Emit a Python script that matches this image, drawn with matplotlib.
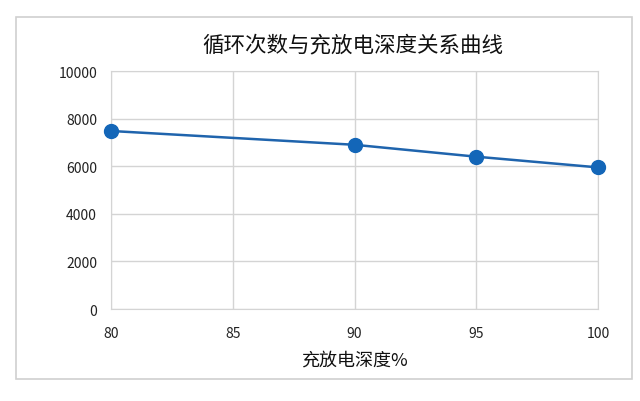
import matplotlib
matplotlib.use("Agg")
import matplotlib.pyplot as plt
from matplotlib.patches import Rectangle

plt.rcParams['font.family'] = ['Noto Sans CJK SC', 'DejaVu Sans']

depth = [80, 90, 95, 100]
cycles = [7480, 6900, 6400, 5950]
x_ticks = [80, 85, 90, 95, 100]
y_ticks = [0, 2000, 4000, 6000, 8000, 10000]
title = "循环次数与充放电深度关系曲线"
xlabel = "充放电深度%"

fig = plt.figure(figsize=(6.4, 4.02), dpi=100)
fig.patches.append(Rectangle((16/640, 1-380/402), (632-16)/640, (380-18)/402,
                             transform=fig.transFigure, fill=False,
                             edgecolor='#d0d0d0', linewidth=1.2))
ax = fig.add_axes([111/640, 1-310/402, (598-111)/640, (310-72)/402])
ax.plot(depth, cycles, color='#1f64ad', linewidth=1.8, marker='o',
        markersize=10, markerfacecolor='#1366b8', markeredgecolor='#1366b8',
        zorder=3, clip_on=False)
ax.set_xlim(80, 100)
ax.set_ylim(0, 10000)
ax.set_xticks(x_ticks)
ax.set_yticks(y_ticks)
ax.grid(True, color='#d4d4d4', linewidth=1)
for s in ax.spines.values():
    s.set_color('#d4d4d4')
ax.tick_params(length=0, labelsize=10, colors='#222222')
ax.tick_params(axis='x', pad=12)
ax.tick_params(axis='y', pad=10)
ax.set_xlabel(xlabel, fontsize=13, labelpad=8, color='#111111')
fig.text(0.552, 1-45/402, title, fontsize=15.5, ha='center', va='center', color='#111111')
fig.savefig("out.png", dpi=100)
